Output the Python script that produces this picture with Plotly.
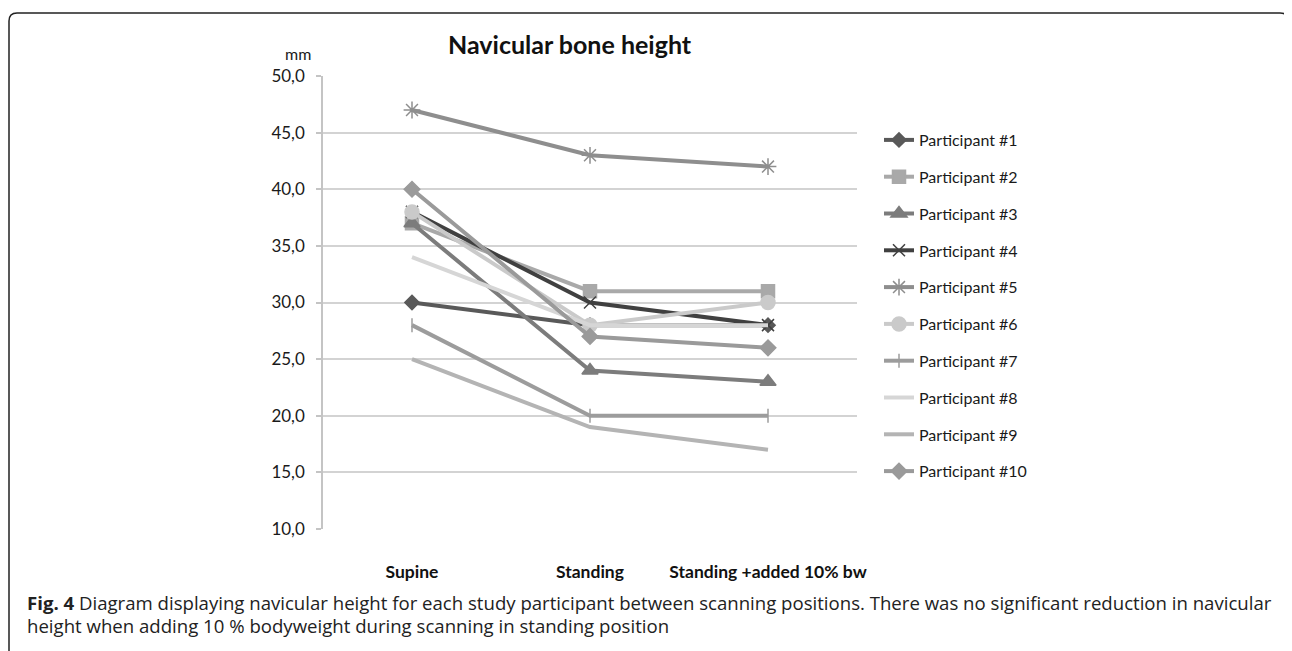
import plotly.graph_objects as go

categories = ["Supine", "Standing", "Standing +added 10% bw"]
participants = ["Participant #1", "Participant #2", "Participant #3", "Participant #4", "Participant #5",
                "Participant #6", "Participant #7", "Participant #8", "Participant #9", "Participant #10"]
p1 = [30, 28, 28]
p2 = [37, 31, 31]
p3 = [37, 24, 23]
p4 = [38, 30, 28]
p5 = [47, 43, 42]
p6 = [38, 28, 30]
p7 = [28, 20, 20]
p8 = [34, 28, 28]
p9 = [25, 19, 17]
p10 = [40, 27, 26]
series = [p1, p2, p3, p4, p5, p6, p7, p8, p9, p10]
y_ticks = [10, 15, 20, 25, 30, 35, 40, 45, 50]

colors = ["#595959", "#a9a9a9", "#7c7c7c", "#404040", "#8e8e8e",
          "#cacaca", "#9c9c9c", "#d6d6d6", "#b4b4b4", "#9a9a9a"]
symbols = ["diamond", "square", "triangle-up", "x-thin-open", "asterisk-open",
           "circle", "line-ns-open", None, None, "diamond"]
sizes = [11, 13, 14, 12, 14, 14, 10, 0, 0, 12]

OFF = 8  # page body margin
W, H = 1292 - OFF, 651 - OFF
L, R, T, B = 323, 857, 76, 529  # plot area in screenshot pixels

def px(x):
    return (x - L) / (R - L)

def py(y):
    return (B - y) / (B - T)

fig = go.Figure()
for i, (name, vals) in enumerate(zip(participants, series)):
    mode = "lines+markers" if symbols[i] else "lines"
    marker = dict(symbol=symbols[i], size=sizes[i], color=colors[i],
                  line=dict(color=colors[i], width=1.5)) if symbols[i] else None
    fig.add_trace(go.Scatter(
        x=categories, y=vals, name=name, mode=mode,
        line=dict(color=colors[i], width=4),
        marker=marker, legendgroup=name,
    ))

fig.update_layout(
    width=W, height=H,
    margin=dict(l=L - OFF, r=W - (R - OFF), t=T - OFF, b=H - (B - OFF), pad=0),
    paper_bgcolor="white", plot_bgcolor="white",
    separators=", ",
    font=dict(family="Lato, Open Sans, sans-serif", color="#1a1a1a"),
    showlegend=True,
    legend=dict(x=px(879), y=py(123), xanchor="left", yanchor="top",
                font=dict(size=16, family="Lato, sans-serif", color="#1a1a1a"),
                tracegroupgap=13, bgcolor="rgba(0,0,0,0)", itemwidth=30),
    xaxis=dict(type="category", range=[-0.5, 2.5], showgrid=False, showline=False,
               ticks="", tickfont=dict(size=17.5, family="Lato, sans-serif", color="#111"),
               ticklabelstandoff=30, zeroline=False),
    yaxis=dict(range=[10, 50], tickvals=y_ticks, tickformat=".1f",
               showgrid=True, gridcolor="#d3d3d3", gridwidth=1.5,
               showline=True, linecolor="#c4c4c4", linewidth=1.5,
               ticks="outside", ticklen=5, tickcolor="#c4c4c4", tickwidth=1.5,
               tickfont=dict(size=17, family="Lato, sans-serif", color="#1a1a1a"),
               ticklabelstandoff=8, zeroline=False),
)

fig.update_xaxes(tickvals=categories, ticktext=["<b>" + c + "</b>" for c in categories])

annotations = [
    dict(text="<b>Navicular bone height</b>", x=px(570), y=py(44), xref="paper", yref="paper",
         showarrow=False, font=dict(size=25, family="Lato, sans-serif", color="#111"),
         xanchor="center", yanchor="middle"),
    dict(text="mm", x=px(298), y=py(54), xref="paper", yref="paper", showarrow=False,
         font=dict(size=16, family="Lato, sans-serif", color="#1a1a1a"),
         xanchor="center", yanchor="middle"),
    dict(text="<b>Fig. 4</b> Diagram displaying navicular height for each study participant between scanning positions. "
              "There was no significant reduction in navicular",
         x=px(25), y=py(602), xref="paper", yref="paper", showarrow=False, xanchor="left", yanchor="middle",
         font=dict(size=18.6, family="Open Sans, sans-serif", color="#222")),
    dict(text="height when adding 10 % bodyweight during scanning in standing position",
         x=px(25), y=py(625), xref="paper", yref="paper", showarrow=False, xanchor="left", yanchor="middle",
         font=dict(size=18.6, family="Open Sans, sans-serif", color="#222")),
]
fig.update_layout(annotations=annotations)

# frame with rounded top corners
r = 8
x0, x1, y0, y1 = 9, 1288, 13, 670
path = (f"M {px(x0)} {py(y1)} L {px(x0)} {py(y0 + r)} Q {px(x0)} {py(y0)} {px(x0 + r)} {py(y0)} "
        f"L {px(x1 - r)} {py(y0)} Q {px(x1)} {py(y0)} {px(x1)} {py(y0 + r)} L {px(x1)} {py(y1)}")
fig.add_shape(type="path", path=path, xref="paper", yref="paper",
              line=dict(color="#222", width=1.5), layer="above")

fig.write_html("out.html")
